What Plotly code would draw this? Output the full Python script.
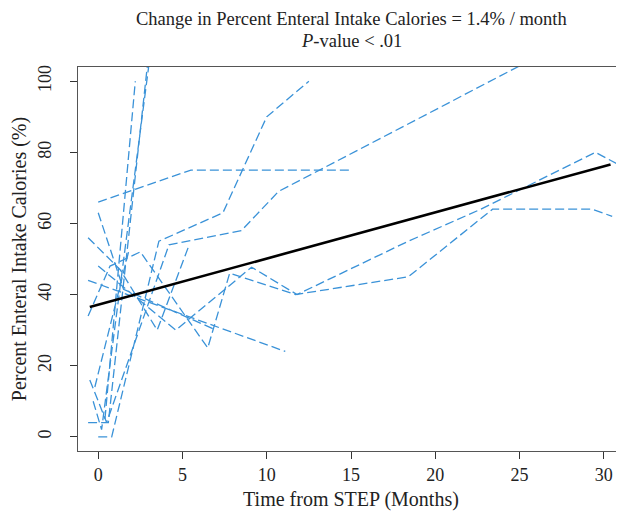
import plotly.graph_objects as go

# Individual patient trajectories (months, percent enteral intake calories)
subj_a_x = [0, 5.5, 15]
subj_a_y = [66, 75, 75]
subj_b_x = [-0.6, 11.1]
subj_b_y = [44, 24]
subj_c_x = [0, 0.8, 3.6, 7.4, 10, 12.5]
subj_c_y = [0, 0, 55, 63, 90, 100]
subj_d_x = [-0.6, 0.7, 2.5, 6.5, 7.8, 11.7, 18.4, 23.4, 29.3, 30.5]
subj_d_y = [34, 48, 52, 25, 46, 40, 45, 64, 64, 62]
subj_e_x = [0, 4.6, 9.1, 11.8, 18.4, 22.7, 29.5, 31.5]
subj_e_y = [48, 30, 47.7, 40, 55, 64, 80, 75]
subj_f_x = [-0.6, 1.3, 3.5, 5.4]
subj_f_y = [56, 47, 30, 54]
subj_g_x = [0, 1.5, 7.0]
subj_g_y = [63, 41.5, 30]
subj_h_x = [-0.5, 0.5, 4.2, 8.5, 10.7, 26.5]
subj_h_y = [16, 4, 54, 58, 69, 108]
subj_i_x = [-0.6, 0.6, 3.0]
subj_i_y = [4, 4, 108]
subj_j_x = [-0.3, 0.2, 3.1]
subj_j_y = [10, 2, 108]
subj_k_x = [0.4, 2.2]
subj_k_y = [5, 100]
subj_m_x = [-0.2, 1.8]
subj_m_y = [14, 52]

subjects = [
    (subj_a_x, subj_a_y), (subj_b_x, subj_b_y), (subj_c_x, subj_c_y),
    (subj_d_x, subj_d_y), (subj_e_x, subj_e_y), (subj_f_x, subj_f_y),
    (subj_g_x, subj_g_y), (subj_h_x, subj_h_y), (subj_i_x, subj_i_y),
    (subj_j_x, subj_j_y), (subj_k_x, subj_k_y), (subj_m_x, subj_m_y),
]

# Fitted regression line
reg_x = [-0.5, 30.4]
reg_y = [36.5, 76.6]

x_ticks = [0, 5, 10, 15, 20, 25, 30]
y_ticks = [0, 20, 40, 60, 80, 100]

title_lines = ["Change in Percent Enteral Intake Calories = 1.4% / month",
               "<i>P</i>-value < .01"]

BLUE = "rgb(58,146,216)"
FONT = "Liberation Serif"

fig = go.Figure()
for sx, sy in subjects:
    fig.add_trace(go.Scatter(x=sx, y=sy, mode="lines",
                             line=dict(color=BLUE, width=1.3, dash="9px,4px"),
                             showlegend=False, hoverinfo="skip"))
fig.add_trace(go.Scatter(x=reg_x, y=reg_y, mode="lines",
                         line=dict(color="black", width=2.6),
                         showlegend=False))

axis_common = dict(showgrid=False, zeroline=False, showline=True, mirror=True,
                   linecolor="#555", linewidth=1, ticks="outside", ticklen=7,
                   tickcolor="#333", automargin=False,
                   tickfont=dict(family=FONT, size=18, color="#222"))

fig.update_layout(
    width=624, height=525,
    margin=dict(l=70, r=8, t=59, b=82),
    plot_bgcolor="white", paper_bgcolor="white",
    xaxis=dict(range=[-1.2, 31.2], tickvals=x_ticks, ticktext=[str(v) for v in x_ticks],
               title=dict(text="Time from STEP (Months)", font=dict(family=FONT, size=20, color="#222"), standoff=8),
               ticklabelstandoff=0, **axis_common),
    yaxis=dict(range=[-4, 104], tickvals=y_ticks, ticktext=[str(v) for v in y_ticks], tickangle=-90,
               title=dict(text="Percent Enteral Intake Calories (%)", font=dict(family=FONT, size=20, color="#222"), standoff=6),
               ticklabelstandoff=12, **axis_common),
    shapes=[dict(type="line", xref="paper", yref="paper", x0=1, x1=1, y0=0, y1=1,
                 line=dict(color="#555", width=3))],
    annotations=[
        dict(text=title_lines[0], xref="paper", yref="paper", x=0.5, y=1.125,
             xanchor="center", yanchor="middle", showarrow=False,
             font=dict(family=FONT, size=18.5, color="#222")),
        dict(text=title_lines[1], xref="paper", yref="paper", x=0.5, y=1.068,
             xanchor="center", yanchor="middle", showarrow=False,
             font=dict(family=FONT, size=18.5, color="#222")),
    ],
)

fig.write_html("out.html")
